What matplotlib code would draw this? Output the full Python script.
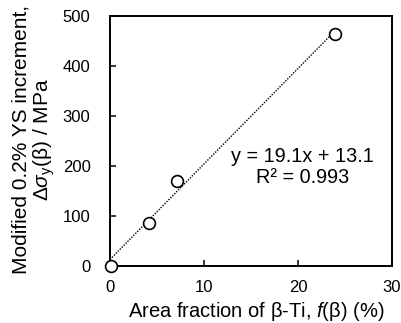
import matplotlib
matplotlib.use("Agg")
import matplotlib.pyplot as plt
import numpy as np

plt.rcParams['font.family'] = ['Liberation Sans', 'DejaVu Sans']
plt.rcParams['mathtext.fontset'] = 'custom'
plt.rcParams['mathtext.rm'] = 'Liberation Sans'
plt.rcParams['mathtext.it'] = 'Liberation Sans:italic'

area_fraction = [0.1, 4.1, 7.1, 23.9]
ys_increment = [0, 87, 171, 463]
slope = 19.1
intercept = 13.1
r2 = 0.993

W, H = 401, 323
fig = plt.figure(figsize=(W/100, H/100), dpi=100)
ax = fig.add_axes([110/W, 1-266/H, (392-110)/W, (266-16)/H])

xfit = np.array([0, max(area_fraction) + 0.1])
ax.plot(xfit, slope * xfit + intercept, linestyle=(0, (1, 1)), color='black', lw=1.0, zorder=2)
ax.plot(area_fraction, ys_increment, 'o', mfc='white', mec='black', ms=8.5, mew=1.2, zorder=3, clip_on=False)

ax.set_xlim(0, 30)
ax.set_ylim(0, 500)
ax.set_xticks([0, 10, 20, 30])
ax.set_yticks([0, 100, 200, 300, 400, 500])
ax.tick_params(axis='both', direction='in', length=4.5, width=1.1, labelsize=12)
ax.tick_params(axis='y', pad=14)
ax.tick_params(axis='x', pad=10)
for s in ax.spines.values():
    s.set_linewidth(1.4)

fig.text(302.5/W, 1-162/H, f'y = {slope}x + {intercept}', ha='center', va='baseline', fontsize=14.3)
fig.text(302.5/W, 1-183/H, f'R² = {r2}', ha='center', va='baseline', fontsize=14.3)

fig.text(256/W, 1-317/H, r'Area fraction of β-Ti, $\mathit{f}$(β) (%)', ha='center', va='baseline', fontsize=14.5)
fig.text(27/W, 1-139/H, 'Modified 0.2% YS increment,', rotation=90, rotation_mode='anchor',
         ha='center', va='baseline', fontsize=15)
fig.text(48.5/W, 1-140/H, r'$\mathit{\Delta\sigma}_{\mathrm{y}}$(β) / MPa', rotation=90, rotation_mode='anchor',
         ha='center', va='baseline', fontsize=15)

fig.savefig('out.png', dpi=100)
